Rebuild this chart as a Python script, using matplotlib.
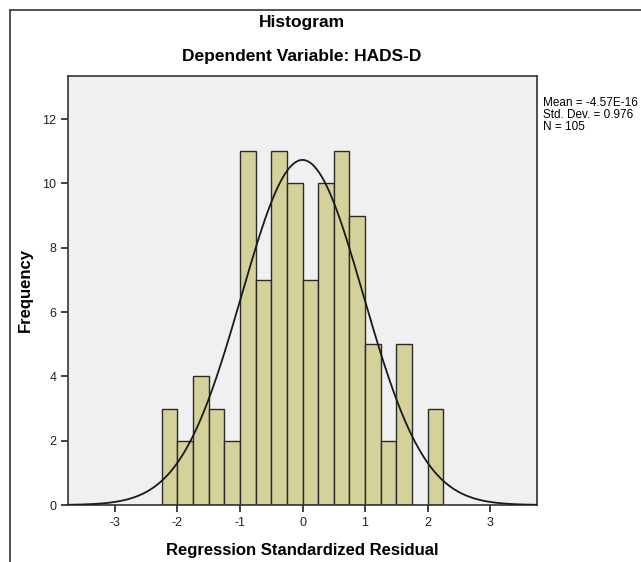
import numpy as np
import matplotlib.pyplot as plt
from matplotlib.lines import Line2D

plt.rcParams['font.family'] = ['Liberation Sans', 'DejaVu Sans']
plt.rcParams['axes.unicode_minus'] = False

bin_edges = np.arange(-2.25, 2.26, 0.25)
counts = [3, 2, 4, 3, 2, 11, 7, 11, 10, 7, 10, 11, 9, 5, 2, 5, 0, 3]
mean = -4.57e-16
std = 0.976
n = 105
x_ticks = [-3, -2, -1, 0, 1, 2, 3]
y_ticks = [0, 2, 4, 6, 8, 10, 12]

fig = plt.figure(figsize=(6.41, 5.62), dpi=100)
W, H = 641, 562
ax = fig.add_axes([68 / W, 1 - 505 / H, (537 - 68) / W, (505 - 76) / H])
ax.set_facecolor('#f0f0f0')

widths = np.diff(bin_edges)
for left, w, c in zip(bin_edges[:-1], widths, counts):
    if c > 0:
        ax.bar(left, c, width=w, align='edge', color='#d4d19b',
               edgecolor='#2a2a2a', linewidth=1.0, zorder=2)

xs = np.linspace(-3.75, 3.75, 400)
ys = n * 0.25 / (std * np.sqrt(2 * np.pi)) * np.exp(-0.5 * ((xs - mean) / std) ** 2)
ax.plot(xs, ys, color='#1a1a1a', linewidth=1.3, zorder=3)

ax.set_xlim(-3.75, 3.75)
ax.set_ylim(0, 13.34)
ax.set_xticks(x_ticks)
ax.set_yticks(y_ticks)
ax.tick_params(direction='out', length=5, width=1.2, labelsize=9, colors='#222222')
for s in ax.spines.values():
    s.set_color('#333333')
    s.set_linewidth(1.2)

ax.set_xlabel('Regression Standardized Residual', fontsize=12, fontweight='bold', labelpad=10)
ax.set_ylabel('Frequency', fontsize=12, fontweight='bold', labelpad=7)

fig.text(302 / W, 1 - 22 / H, 'Histogram', ha='center', va='center',
         fontsize=12.5, fontweight='bold')
fig.text(302 / W, 1 - 57 / H, 'Dependent Variable: HADS-D', ha='center', va='center',
         fontsize=12.5, fontweight='bold')
fig.text(543 / W, 1 - 115 / H, 'Mean = -4.57E-16\nStd. Dev. = 0.976\nN = 105',
         ha='left', va='center', fontsize=8.5, linespacing=0.95)

# outer frame
fig.add_artist(Line2D([10 / W, 10 / W], [0, 1 - 10 / H], color='#333333', linewidth=1.2))
fig.add_artist(Line2D([10 / W, 1], [1 - 10 / H, 1 - 10 / H], color='#333333', linewidth=1.2))

fig.savefig('out.png', dpi=100)
